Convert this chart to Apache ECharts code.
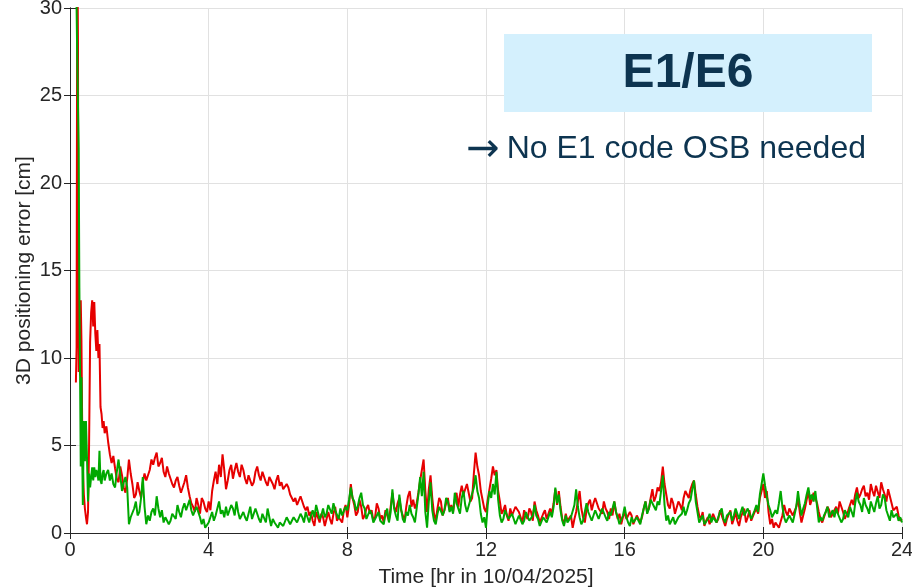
<!DOCTYPE html>
<html>
<head>
<meta charset="utf-8">
<script src="https://cdn.jsdelivr.net/npm/echarts@6/dist/echarts.min.js"></script>
<style>
  html, body { margin: 0; padding: 0; background: #fff; }
  #chart { width: 912px; height: 588px; }
</style>
</head>
<body>
<div id="chart"></div>
<script>
// 采样时刻（前段不等间隔，之后每 0.05 h 一个点）
const earlyTimes = [0.17, 0.19, 0.21, 0.23, 0.25, 0.27, 0.29, 0.31, 0.33, 0.35, 0.37, 0.40, 0.43, 0.46, 0.49,
    0.52, 0.55, 0.58, 0.61, 0.64, 0.67, 0.70, 0.73, 0.76, 0.79, 0.82, 0.85, 0.88, 0.91, 0.94, 0.97];

const redEarly = [8.6, 10.6, 34, 28, 9.2, 10.4, 9.0, 13.3, 11.0, 6.5, 3.8, 2.2, 1.4, 0.9, 0.5,
    1.2, 5.0, 10.9, 12.6, 13.3, 11.8, 13.2, 11.4, 10.4, 11.6, 10.0, 10.8, 7.2, 6.8, 6.0, 6.4];

const greenEarly = [33, 30, 27, 26.9, 22, 14, 9.1, 3.8, 8.9, 5.0, 1.6, 6.4, 4.1, 6.4, 4.3,
    1.8, 3.4, 2.6, 3.2, 3.75, 3.0, 3.75, 3.2, 3.6, 3.4, 3.0, 4.7, 3.0, 2.8, 3.4, 3.6];

// 1.00 h ~ 24.00 h，每行 1 小时（20 个点）
const redVals = [
    5.7, 6.1, 5.2, 4.5, 4.0, 4.4, 3.7, 3.1, 2.9, 3.8, 3.3, 2.6, 2.3, 3.1, 4.2, 3.4, 2.8, 2.0, 2.2, 2.9,
    2.4, 2.0, 2.9, 3.4, 3.0, 3.3, 3.6, 4.2, 3.9, 4.3, 4.6, 3.8, 4.0, 4.3, 3.5, 3.2, 3.8, 3.4, 3.1, 2.8,
    2.6, 3.0, 3.2, 2.7, 2.3, 2.6, 2.9, 3.3, 2.6, 2.1, 1.7, 1.5, 1.2, 2.0, 1.6, 1.1, 2.0, 1.8, 1.4, 1.2,
    1.8, 1.3, 2.4, 3.0, 3.5, 2.8, 3.9, 3.2, 4.5, 3.6, 2.5, 3.0, 3.6, 3.9, 3.1, 3.6, 4.0, 3.5, 3.2, 3.9,
    3.6, 3.1, 2.8, 3.3, 3.4, 2.7, 2.9, 3.5, 3.8, 3.3, 3.0, 3.5, 3.2, 2.9, 2.7, 3.2, 3.0, 2.8, 2.5, 3.0,
    3.3, 2.7, 2.9, 2.5, 2.4, 2.8, 2.6, 2.2, 2.1, 1.8, 2.0, 1.6, 1.7, 2.1, 1.8, 1.5, 1.3, 1.5, 1.0, 1.2,
    0.7, 0.4, 1.2, 0.9, 0.6, 1.1, 0.9, 0.4, 0.5, 1.2, 0.8, 0.5, 1.1, 1.5, 0.7, 0.9, 1.0, 0.6, 1.3, 1.6,
    0.9, 1.6, 2.8, 2.0, 1.6, 1.0, 1.2, 1.9, 1.5, 0.8, 1.0, 1.4, 1.6, 1.1, 1.3, 0.7, 0.9, 1.7, 1.4, 0.8,
    1.0, 0.6, 1.3, 1.0, 0.7, 1.5, 2.3, 1.5, 1.2, 1.7, 2.0, 1.3, 1.0, 0.7, 1.5, 2.1, 2.4, 1.5, 1.9, 1.4,
    1.7, 2.3, 3.0, 3.6, 4.2, 2.4, 1.2, 2.5, 3.3, 2.0, 1.1, 0.7, 1.4, 2.0, 1.8, 1.0, 1.3, 1.7, 2.0, 1.3,
    1.6, 1.2, 1.9, 2.3, 1.5, 2.2, 2.7, 2.2, 2.5, 2.8, 2.3, 1.8, 2.0, 3.4, 4.6, 3.8, 3.3, 2.4, 1.9, 1.4,
    1.2, 1.9, 2.5, 3.1, 3.8, 3.3, 3.6, 2.4, 1.8, 1.1, 1.3, 1.6, 1.0, 0.7, 1.4, 1.0, 1.1, 1.5, 1.6, 1.2,
    0.9, 0.6, 1.3, 1.0, 0.8, 1.4, 1.2, 0.7, 1.8, 1.3, 1.0, 0.6, 0.7, 1.1, 1.3, 0.8, 0.9, 1.4, 1.1, 1.7,
    2.5, 1.6, 2.4, 1.5, 0.8, 0.5, 1.1, 0.7, 0.6, 1.0, 0.3, 0.8, 1.2, 1.8, 2.4, 1.4, 0.9, 0.6, 1.3, 1.7,
    1.9, 1.3, 1.7, 2.0, 1.9, 1.4, 1.5, 1.1, 1.8, 1.4, 1.2, 0.8, 1.4, 1.0, 1.8, 1.2, 0.8, 1.1, 0.5, 0.9,
    1.2, 0.8, 0.7, 1.2, 1.0, 0.5, 0.6, 1.0, 1.1, 0.6, 0.9, 1.4, 1.8, 1.2, 1.4, 2.0, 2.5, 1.8, 2.1, 2.6,
    2.4, 2.9, 3.8, 2.8, 2.2, 1.6, 1.4, 2.0, 1.7, 1.1, 1.2, 1.8, 1.6, 1.3, 2.0, 2.4, 2.2, 2.0, 2.5, 2.8,
    3.0, 2.2, 1.5, 1.0, 0.8, 1.2, 0.4, 0.7, 0.9, 0.5, 0.6, 1.1, 1.0, 0.6, 0.8, 1.3, 1.2, 0.7, 0.4, 0.8,
    0.9, 1.3, 0.5, 0.8, 1.2, 0.7, 0.4, 0.9, 1.0, 1.4, 0.6, 0.9, 1.3, 0.7, 0.8, 1.2, 1.4, 1.1, 2.0, 2.4,
    2.8, 2.0, 2.4, 1.2, 0.5, 0.8, 0.3, 0.6, 0.6, 0.3, 0.4, 1.0, 1.6, 1.2, 1.0, 1.4, 1.5, 1.0, 0.9, 1.5,
    2.0, 1.2, 0.6, 1.0, 1.4, 1.9, 2.4, 1.6, 1.9, 2.3, 2.4, 1.7, 1.2, 0.8, 0.6, 0.9, 1.0, 1.5, 1.3, 0.9,
    0.9, 1.3, 1.5, 1.1, 1.8, 1.5, 1.2, 0.8, 0.9, 1.3, 1.4, 1.9, 1.6, 2.2, 2.6, 2.0, 2.2, 2.5, 2.7, 2.1,
    2.3, 1.9, 2.8, 2.4, 2.1, 2.7, 2.6, 2.0, 2.9, 2.5, 2.2, 1.8, 2.5, 2.1, 1.7, 1.3, 1.2, 1.5, 1.0, 0.7,
    0.8
];

const greenVals = [
    3.0, 3.4, 3.6, 3.0, 3.4, 2.8, 2.6, 3.5, 4.2, 3.3, 2.4, 2.9, 3.2, 2.6, 0.5, 0.9, 0.9, 1.4, 1.8, 1.0,
    1.2, 2.0, 3.2, 1.5, 0.5, 1.0, 0.7, 1.2, 1.4, 1.0, 2.1, 1.4, 0.9, 1.3, 0.6, 0.9, 1.0, 0.5, 0.7, 1.1,
    1.2, 0.8, 1.6, 1.2, 0.9, 1.4, 1.7, 1.3, 1.6, 1.9, 1.3, 1.0, 1.0, 1.5, 1.4, 0.9, 0.5, 0.8, 0.3, 0.4,
    0.6, 0.9, 1.2, 0.7, 1.0, 1.4, 1.8, 1.1, 1.3, 0.9, 1.5, 1.0, 1.1, 1.6, 1.4, 1.0, 1.8, 1.2, 0.8, 0.7,
    1.2, 0.9, 0.7, 1.1, 1.5, 0.8, 0.9, 1.4, 1.3, 0.8, 0.6, 1.1, 1.0, 0.6, 1.4, 0.9, 0.4, 0.8, 0.6, 0.5,
    0.3, 0.6, 0.7, 0.4, 0.4, 0.9, 0.8, 0.5, 0.6, 0.9, 1.0, 0.6, 0.7, 1.1, 0.9, 0.6, 1.2, 0.9, 0.6, 1.0,
    1.3, 0.9, 1.6, 1.2, 0.8, 1.0, 1.4, 0.9, 1.1, 1.6, 1.5, 1.1, 1.7, 1.3, 1.2, 0.8, 1.4, 1.0, 0.9, 1.5,
    1.3, 1.9, 2.6, 2.0, 1.8, 1.3, 1.5, 2.0, 2.3, 1.6, 1.4, 0.8, 0.9, 1.3, 1.1, 0.6, 0.7, 1.0, 1.2, 0.7,
    0.8, 0.5, 1.1, 1.4, 0.6, 1.2, 2.5, 1.4, 1.0, 0.7, 2.2, 1.4, 0.8, 0.6, 1.2, 1.0, 1.6, 1.1, 0.9, 0.6,
    1.4, 2.2, 3.2, 2.1, 3.5, 1.2, 0.3, 1.8, 2.9, 1.3, 0.7, 0.5, 1.1, 1.5, 1.6, 1.0, 1.3, 2.0, 1.8, 1.2,
    1.5, 1.1, 2.3, 1.7, 1.4, 1.1, 2.0, 2.4, 1.6, 1.2, 1.3, 1.9, 1.8, 2.6, 3.3, 2.4, 2.0, 1.1, 0.6, 0.9,
    0.3, 1.6, 2.4, 2.0, 2.8, 2.2, 3.5, 1.9, 1.0, 0.6, 0.8, 1.3, 1.2, 0.8, 0.7, 1.1, 1.0, 0.5, 0.6, 1.0,
    0.9, 0.5, 0.7, 1.2, 1.1, 0.7, 0.6, 1.0, 1.6, 1.0, 0.8, 0.4, 0.5, 0.9, 1.0, 0.6, 0.7, 1.2, 0.9, 1.5,
    2.6, 1.7, 2.2, 1.3, 0.7, 0.4, 1.0, 0.6, 0.5, 0.9, 0.8, 1.6, 2.5, 1.5, 0.9, 0.5, 0.7, 1.2, 1.7, 1.2,
    1.1, 0.7, 0.8, 1.3, 1.2, 0.8, 0.9, 1.4, 1.3, 0.9, 0.7, 1.2, 1.0, 1.4, 1.8, 1.2, 0.9, 0.5, 0.6, 1.0,
    1.5, 0.9, 0.6, 0.4, 0.9, 0.6, 0.5, 0.9, 0.8, 0.5, 1.0, 1.4, 1.8, 1.1, 1.4, 1.9, 2.0, 1.5, 1.3, 1.8,
    1.6, 2.4, 3.3, 1.6, 0.7, 1.0, 0.5, 0.7, 0.9, 0.5, 0.4, 0.9, 0.8, 1.1, 1.5, 1.0, 1.3, 1.7, 1.9, 2.5,
    3.0, 1.8, 1.2, 0.6, 0.7, 1.0, 0.5, 0.4, 0.8, 1.1, 0.6, 0.9, 1.0, 0.6, 0.9, 1.2, 1.4, 0.8, 0.6, 1.0,
    0.9, 1.2, 0.7, 1.0, 1.4, 1.1, 0.8, 1.2, 1.5, 1.0, 1.0, 1.4, 1.3, 0.8, 0.9, 1.3, 1.6, 1.2, 2.2, 2.8,
    3.4, 2.7, 2.1, 1.6, 1.3, 0.9, 0.8, 1.3, 1.1, 1.7, 2.4, 1.5, 0.9, 0.6, 0.6, 1.0, 1.0, 0.6, 0.7, 1.5,
    2.4, 1.6, 1.0, 1.4, 1.7, 2.2, 2.6, 1.9, 2.2, 1.8, 2.4, 1.5, 0.6, 0.9, 0.7, 1.0, 1.2, 1.5, 0.9, 1.1,
    1.3, 0.9, 1.4, 1.1, 1.0, 0.6, 0.8, 1.3, 1.2, 0.9, 1.5, 1.2, 0.9, 1.7, 2.3, 1.8, 1.6, 1.2, 2.0, 1.6,
    1.4, 1.1, 1.8, 1.5, 1.2, 1.7, 2.1, 1.4, 1.6, 2.2, 2.0, 1.3, 1.0, 0.7, 1.3, 0.9, 0.8, 1.1, 0.7, 0.9,
    0.6
];

const xTicks = [0, 4, 8, 12, 16, 20, 24];
const yTicks = [0, 5, 10, 15, 20, 25, 30];

// 拼成 [t, v] 点列
const toPairs = (earlyVals, grid) => {
    let res = [];
    for (let i = 0; i < earlyTimes.length; i++) res.push([earlyTimes[i], earlyVals[i]]);
    for (let i = 0; i < grid.length; i++) res.push([+(1 + i * 0.05).toFixed(2), grid[i]]);
    return res;
};

const FONT = 'Liberation Sans';
const AX = '#262626';

let chart = echarts.init(document.getElementById('chart'));
let axisCommon = {
    axisLine: {show: true, lineStyle: {color: AX, width: 1}},
    axisTick: {show: true, inside: true, length: 6, lineStyle: {color: AX}},
    splitLine: {show: false}
};
let option = {
    animation: false,
    backgroundColor: '#fff',
    grid: {left: 70, right: 10, top: 8, bottom: 55, containLabel: false, outerBoundsMode: 'none'},
    xAxis: [
        Object.assign({}, axisCommon, {
            type: 'value', min: xTicks[0], max: xTicks[xTicks.length - 1], interval: 4,
            name: 'Time [hr in 10/04/2025]', nameLocation: 'middle', nameGap: 34,
            nameTextStyle: {color: AX, fontFamily: FONT, fontSize: 21},
            axisLabel: {color: AX, fontFamily: FONT, fontSize: 20, margin: 7},
            splitLine: {show: true, lineStyle: {color: '#e1e1e1', width: 1}}
        }),
        Object.assign({}, axisCommon, {
            type: 'value', min: 0, max: 24, interval: 4, position: 'top',
            axisLabel: {show: false}
        })
    ],
    yAxis: [
        Object.assign({}, axisCommon, {
            type: 'value', min: yTicks[0], max: yTicks[yTicks.length - 1], interval: 5,
            name: '3D positioning error [cm]', nameLocation: 'middle', nameGap: 35,
            nameMoveOverlap: false,
            nameTextStyle: {color: AX, fontFamily: FONT, fontSize: 21},
            axisLabel: {color: AX, fontFamily: FONT, fontSize: 20, margin: 8},
            splitLine: {show: true, lineStyle: {color: '#e1e1e1', width: 1}}
        }),
        Object.assign({}, axisCommon, {
            type: 'value', min: 0, max: 30, interval: 5, position: 'right',
            axisLabel: {show: false}
        })
    ],
    series: [
        {
            type: 'line', name: 'red', showSymbol: false, symbol: 'none',
            data: toPairs(redEarly, redVals),
            lineStyle: {color: '#e60000', width: 2}, clip: true, z: 2
        },
        {
            type: 'line', name: 'green', showSymbol: false, symbol: 'none',
            data: toPairs(greenEarly, greenVals),
            lineStyle: {color: '#00a800', width: 2}, clip: true, z: 3
        }
    ],
    graphic: [
        {
            type: 'rect', left: 504, top: 34, z: 10,
            shape: {width: 368, height: 78},
            style: {fill: '#d4f0fd'}
        },
        {
            type: 'text', x: 688, y: 74, z: 11,
            style: {
                text: 'E1/E6', fill: '#0d3450', font: 'bold 48px "Liberation Sans"',
                textAlign: 'center', textVerticalAlign: 'middle'
            }
        },
        {
            type: 'text', x: 483, y: 151, z: 11,
            style: {
                text: '→', fill: '#0d3450', font: '40px "DejaVu Sans"',
                textAlign: 'center', textVerticalAlign: 'middle'
            }
        },
        {
            type: 'text', x: 866, y: 149, z: 11,
            style: {
                text: 'No E1 code OSB needed', fill: '#0d3450', font: '32px "Liberation Sans"',
                textAlign: 'right', textVerticalAlign: 'middle'
            }
        }
    ]
};
chart.setOption(option);
</script>
</body>
</html>
